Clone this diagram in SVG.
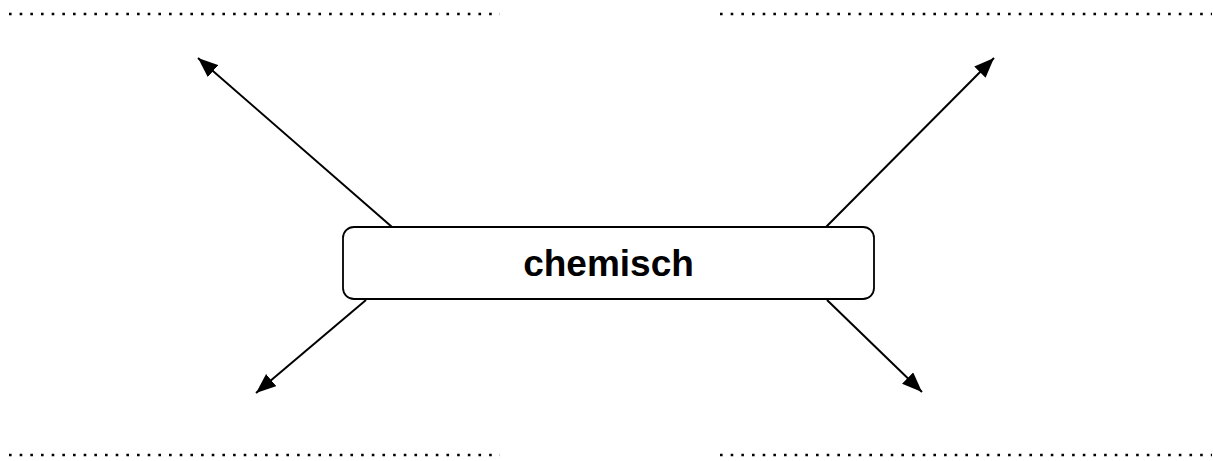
<svg xmlns="http://www.w3.org/2000/svg" width="1213" height="461" viewBox="0 0 1213 461">
<style>
.dots{stroke:#000;stroke-width:2.6;stroke-dasharray:2.6 8.07;fill:none}
.conn{stroke:#000;stroke-width:2;fill:none}
.box{fill:#fff;stroke:#000;stroke-width:1.8}
.lbl{font-family:"Liberation Sans",Arial,sans-serif;font-weight:bold;font-size:37px;fill:#000}
</style>
<defs>
<marker id="ah" viewBox="0 0 10 10" refX="10" refY="5" markerWidth="10" markerHeight="10" markerUnits="userSpaceOnUse" orient="auto">
<path d="M0,0 L10,5 L0,10 z" fill="#000"/>
</marker>
<marker id="ah2" viewBox="0 0 20 16" refX="20" refY="8" markerWidth="20" markerHeight="16" markerUnits="userSpaceOnUse" orient="auto">
<path d="M0,0 L20,8 L0,16 z" fill="#000"/>
</marker>
</defs>
<g id="blanks">
<line class="dots" x1="9" y1="14" x2="500" y2="14"/>
<line class="dots" x1="720" y1="14" x2="1212" y2="14"/>
<line class="dots" x1="9" y1="455" x2="500" y2="455"/>
<line class="dots" x1="720" y1="455" x2="1212" y2="455"/>
</g>
<g id="connectors">
<line class="conn" x1="392" y1="227" x2="198" y2="58" marker-end="url(#ah2)"/>
<line class="conn" x1="826" y1="227" x2="994" y2="58" marker-end="url(#ah2)"/>
<line class="conn" x1="366" y1="300" x2="256" y2="393" marker-end="url(#ah2)"/>
<line class="conn" x1="827" y1="300" x2="922" y2="392" marker-end="url(#ah2)"/>
</g>
<g id="node-chemisch">
<rect class="box" x="343" y="227" width="531" height="72" rx="11" ry="11"/>
<text class="lbl" x="608.5" y="276" text-anchor="middle">chemisch</text>
</g>
</svg>
